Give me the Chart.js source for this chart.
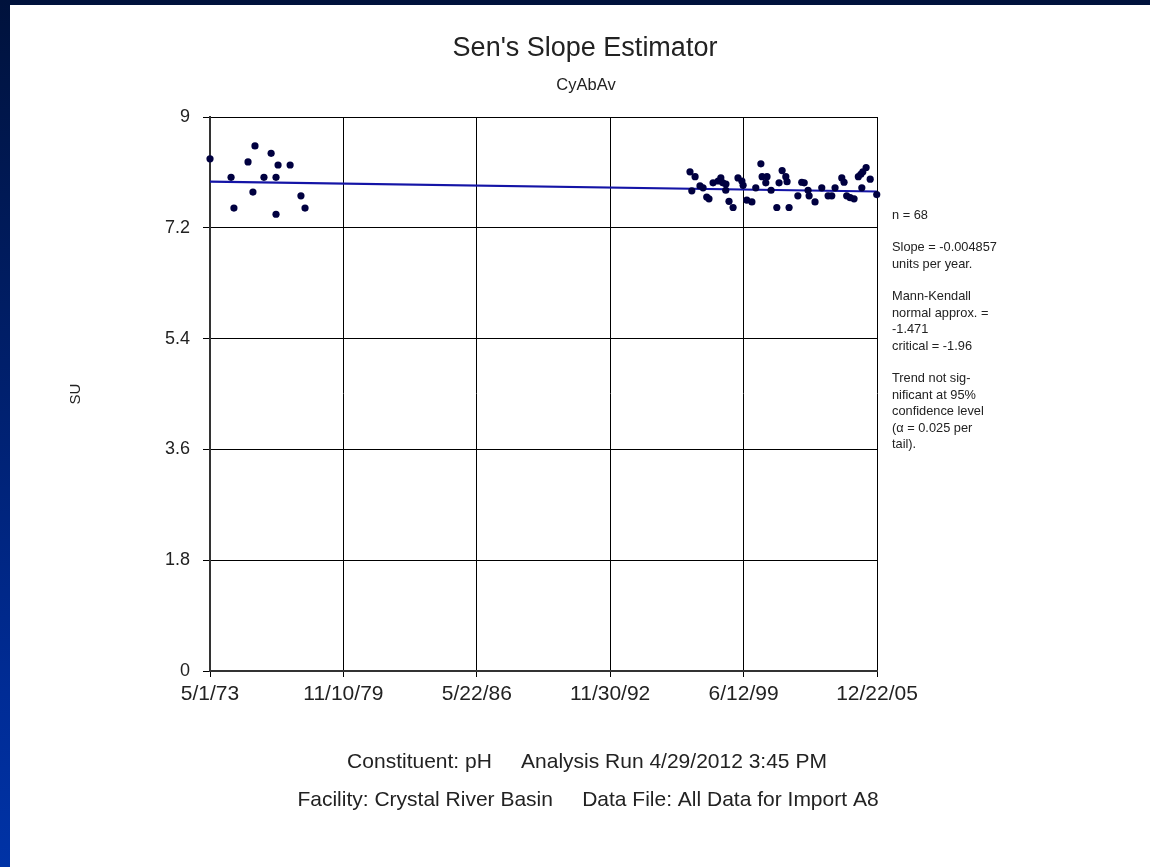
<!DOCTYPE html>
<html>
<head>
<meta charset="utf-8">
<script src="https://cdn.jsdelivr.net/npm/chart.js@4.4.1/dist/chart.umd.min.js"></script>
<style>
  html, body { margin: 0; padding: 0; }
  body {
    width: 1150px; height: 867px; overflow: hidden; position: relative;
    background: linear-gradient(180deg, #00123c 0%, #00206e 45%, #002c96 80%, #0033a6 100%);
  }
  #paper { position: absolute; left: 10px; top: 5px; right: 0; bottom: 0; background: #ffffff; }
  #c { position: absolute; left: 0; top: 0; }
</style>
</head>
<body>
<div id="paper"></div>
<canvas id="c" width="1150" height="867"></canvas>
<script>
// ---- data ----
const sampleYears = [
  1973.33, 1975.53, 1976.32, 1975.19, 1976.66, 1977.25, 1974.36, 1975.97, 1976.56, 1975.43, 1977.78, 1974.50, 1977.98, 1976.56,
  1996.82, 1997.07, 1997.31, 1996.91, 1997.46, 1997.64, 1997.75, 1997.95, 1998.20, 1998.33, 1998.43, 1998.57, 1998.58, 1998.73,
  1998.93, 1999.17, 1999.36, 1999.42, 1999.60, 1999.85, 2000.04, 2000.29, 2000.35, 2000.59, 2000.53, 2000.79, 2001.07, 2001.18,
  2001.33, 2001.51, 2001.57, 2001.67, 2002.10, 2002.29, 2002.41, 2002.60, 2002.65, 2002.94, 2003.27, 2003.58, 2003.76, 2003.92,
  2004.25, 2004.36, 2004.49, 2004.66, 2004.85, 2005.06, 2005.18, 2005.28, 2005.44, 2005.64, 2005.23, 2005.96
];
const sampleValues = [
  8.32, 8.53, 8.41, 8.27, 8.22, 8.22, 8.02, 8.02, 8.02, 7.78, 7.72, 7.52, 7.52, 7.42,
  8.11, 8.03, 7.88, 7.80, 7.85, 7.70, 7.67, 7.93, 7.96, 8.01, 7.93, 7.81, 7.91, 7.63,
  7.53, 8.01, 7.96, 7.89, 7.65, 7.62, 7.85, 8.24, 8.03, 8.03, 7.93, 7.81, 7.53, 7.93,
  8.13, 8.03, 7.95, 7.53, 7.72, 7.94, 7.93, 7.81, 7.72, 7.62, 7.85, 7.72, 7.72, 7.85,
  8.01, 7.94, 7.72, 7.69, 7.67, 8.03, 8.07, 8.11, 8.18, 7.99, 7.85, 7.74
];
const trendYears = [1973.329, 2005.973];
const trendValues = [7.95, 7.79];

const xTickValues = [1973.329, 1979.858, 1986.387, 1992.915, 1999.444, 2005.973];
const xTickLabels = ['5/1/73', '11/10/79', '5/22/86', '11/30/92', '6/12/99', '12/22/05'];
const yTickValues = [0, 1.8, 3.6, 5.4, 7.2, 9];
const yTickLabels = ['0', '1.8', '3.6', '5.4', '7.2', '9'];

const titleText = "Sen's Slope Estimator";
const subtitleText = 'CyAbAv';
const yAxisTitle = 'SU';
const statsLines = [
  ['n = 68'],
  ['Slope = -0.004857', 'units per year.'],
  ['Mann-Kendall', 'normal approx. =', '-1.471', 'critical = -1.96'],
  ['Trend not sig-', 'nificant at 95%', 'confidence level', '(\u03b1 = 0.025 per', 'tail).']
];
const footerLines = [
  'Constituent: pH     Analysis Run 4/29/2012 3:45 PM',
  'Facility: Crystal River Basin     Data File: All Data for Import A8'
];

const FONT = '"Liberation Sans", Arial, Helvetica, sans-serif';

const points = sampleYears.map((x, i) => ({ x: x, y: sampleValues[i] }));
const trend = trendYears.map((x, i) => ({ x: x, y: trendValues[i] }));

const textPlugin = {
  id: 'texts',
  afterDraw(chart) {
    const ctx = chart.ctx;
    const a = chart.chartArea;
    ctx.save();
    ctx.fillStyle = '#222';
    ctx.textAlign = 'center';
    ctx.textBaseline = 'alphabetic';
    ctx.font = '27px ' + FONT;
    ctx.fillText(titleText, 585, 56);
    ctx.font = '16.5px ' + FONT;
    ctx.fillText(subtitleText, 586, 90);

    // y axis title
    ctx.save();
    ctx.translate(76, (a.top + a.bottom) / 2);
    ctx.rotate(-Math.PI / 2);
    ctx.font = '15px ' + FONT;
    ctx.textBaseline = 'middle';
    ctx.fillText(yAxisTitle, 0, 0);
    ctx.restore();

    // stats block
    ctx.textAlign = 'left';
    ctx.textBaseline = 'middle';
    ctx.font = '12.8px ' + FONT;
    let y = 215;
    statsLines.forEach(group => {
      group.forEach((line, k) => {
        ctx.fillText(line, a.right + 15, y);
        y += (k < group.length - 1) ? 16.5 : 32.5;
      });
    });

    // footer
    ctx.textAlign = 'center';
    ctx.textBaseline = 'alphabetic';
    ctx.font = '21px ' + FONT;
    ctx.fillText(footerLines[0], 587, 768);
    ctx.fillText(footerLines[1], 588, 806);
    ctx.restore();
  }
};

new Chart(document.getElementById('c'), {
  type: 'scatter',
  data: {
    datasets: [
      {
        type: 'line',
        data: trend,
        borderColor: '#1414a6',
        borderWidth: 2.2,
        pointRadius: 0,
        fill: false,
        order: 1
      },
      {
        data: points,
        backgroundColor: '#000040',
        borderColor: '#000040',
        pointRadius: 3.6,
        pointBorderWidth: 0,
        clip: false,
        order: 0
      }
    ]
  },
  options: {
    responsive: false,
    animation: false,
    devicePixelRatio: 1,
    layout: { padding: { left: 150, right: 273, top: 117, bottom: 146 } },
    plugins: { legend: { display: false }, tooltip: { enabled: false }, title: { display: false } },
    scales: {
      x: {
        type: 'linear',
        min: xTickValues[0],
        max: xTickValues[xTickValues.length - 1],
        afterBuildTicks(scale) { scale.ticks = xTickValues.map(v => ({ value: v })); },
        afterFit(scale) { scale.height = 50; },
        ticks: {
          autoSkip: false,
          maxRotation: 0,
          padding: 5,
          color: '#222',
          font: { family: FONT, size: 21 },
          callback: (v, i) => xTickLabels[i]
        },
        grid: { color: '#000', lineWidth: 1, drawTicks: true, tickLength: 6, tickColor: '#000' },
        border: { display: true, color: '#333', width: 2 }
      },
      y: {
        type: 'linear',
        min: 0,
        max: 9,
        afterBuildTicks(scale) { scale.ticks = yTickValues.map(v => ({ value: v })); },
        afterFit(scale) { scale.width = 60; },
        ticks: {
          autoSkip: false,
          padding: 13,
          color: '#222',
          font: { family: FONT, size: 18 },
          callback: (v, i) => yTickLabels[i]
        },
        grid: { color: '#000', lineWidth: 1, drawTicks: true, tickLength: 7, tickColor: '#000' },
        border: { display: true, color: '#333', width: 2 }
      }
    }
  },
  plugins: [textPlugin]
});
</script>
</body>
</html>
